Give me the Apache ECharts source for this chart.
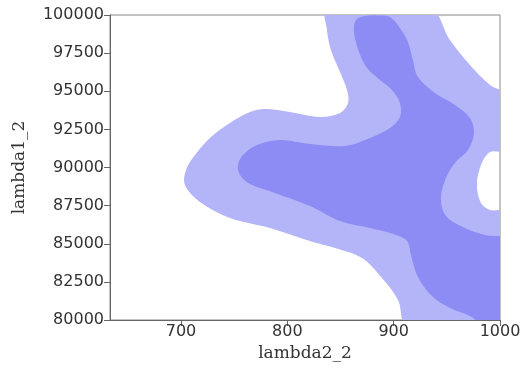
<!DOCTYPE html>
<html>
<head>
<meta charset="utf-8">
<script src="https://cdn.jsdelivr.net/npm/echarts@6/dist/echarts.min.js"></script>
<style>html,body{margin:0;padding:0;background:#fff}#c{width:524px;height:376px}</style>
</head>
<body>
<div id="c"></div>
<script>
// contour outlines in data units [lambda2_2, lambda1_2]
const outerLevel = [
  [837.3,100500],[933.2,100500],[952.9,98361],[971.7,96721],[990.6,95410],[1005,94754],
  [1005,91148],[990.6,91017],[982.1,90164],[978.3,88853],[982.1,87673],[990.6,87214],[1005,87083],
  [1005,79500],[913.4,79500],[904.0,81313],[889.0,82755],[870.2,84066],[844.8,84722],[824.1,85116],
  [783.7,86034],[746.0,86689],[717.8,87738],[703.7,88853],[704.7,89837],[713.1,90820],[727.2,91935],
  [746.0,92918],[764.9,93640],[779.0,93836],[802.5,93640],[830.7,93312],[849.5,93574],[857.0,94230],
  [856.1,95082],[849.5,96263],[841.0,97705],[837.3,99016]
];
const innerLevel = [
  [862.7,98885],[864.5,99672],[873.0,99934],[885.2,99967],[896.5,99869],[905.9,99148],[913.4,98230],
  [918.1,97049],[922.8,95935],[938.8,94886],[957.6,94099],[971.7,93246],[975.5,92263],[969.9,91148],
  [957.6,90296],[949.2,89312],[944.5,88000],[949.2,86820],[967.0,86034],[985.9,85575],[1005,85247],
  [1005,79500],[985.9,79600],[971.7,80263],[952.9,80788],[936.0,81575],[922.8,82821],[916.2,84263],
  [912.4,85200],[896.5,85700],[877.7,86034],[849.5,86493],[821.3,87476],[788.4,88329],[764.9,88919],
  [755.5,89509],[753.6,90164],[758.3,90820],[771.4,91476],[793.1,91804],[821.3,91541],[854.2,91410],
  [877.7,91935],[896.5,92590],[905.9,93312],[905.9,94230],[898.4,95082],[887.1,95738],[874.9,96525],
  [867.4,97574]
];
const xTicks = [700, 800, 900, 1000];
const yTicks = [80000, 82500, 85000, 87500, 90000, 92500, 95000, 97500, 100000];

function polySeries(points, color, z) {
  return {
    type: 'custom',
    coordinateSystem: 'cartesian2d',
    clip: true,
    z: z,
    silent: true,
    data: [[points[0][0], points[0][1]]],
    renderItem: function (params, api) {
      const pts = points.map(p => api.coord(p));
      return {
        type: 'polygon',
        shape: { points: pts, smooth: 0.35 },
        style: { fill: color, stroke: null }
      };
    }
  };
}

const chart = echarts.init(document.getElementById('c'), null, { renderer: 'canvas' });
chart.setOption({
  animation: false,
  backgroundColor: '#fff',
  grid: { left: 110, right: 24, top: 15, bottom: 56, show: true, borderColor: '#888', borderWidth: 1, backgroundColor: 'transparent' },
  xAxis: {
    type: 'value', min: 633.2, max: 1000,
    name: 'lambda2_2', nameLocation: 'middle', nameGap: 23,
    nameTextStyle: { fontFamily: 'DejaVu Serif', fontSize: 17, color: '#333' },
    axisLine: { show: true, lineStyle: { color: '#666', width: 1 } },
    axisTick: { show: true, length: 6, customValues: xTicks, lineStyle: { color: '#666' } },
    axisLabel: { customValues: xTicks, formatter: v => String(v), fontFamily: 'DejaVu Sans', fontSize: 16, color: '#333', margin: 4 },
    splitLine: { show: false }
  },
  yAxis: {
    type: 'value', min: 80000, max: 100000,
    name: 'lambda1_2', nameLocation: 'middle', nameGap: 82,
    nameTextStyle: { fontFamily: 'DejaVu Serif', fontSize: 17, color: '#333' },
    axisLine: { show: true, lineStyle: { color: '#666', width: 1 } },
    axisTick: { show: true, length: 6, customValues: yTicks, lineStyle: { color: '#666' } },
    axisLabel: { customValues: yTicks, formatter: v => String(v), fontFamily: 'DejaVu Sans', fontSize: 16, color: '#333', margin: 6 },
    splitLine: { show: false }
  },
  series: [
    polySeries(outerLevel, '#b4b4f8', 2),
    polySeries(innerLevel, '#8c8cf4', 3)
  ]
});
</script>
</body>
</html>
